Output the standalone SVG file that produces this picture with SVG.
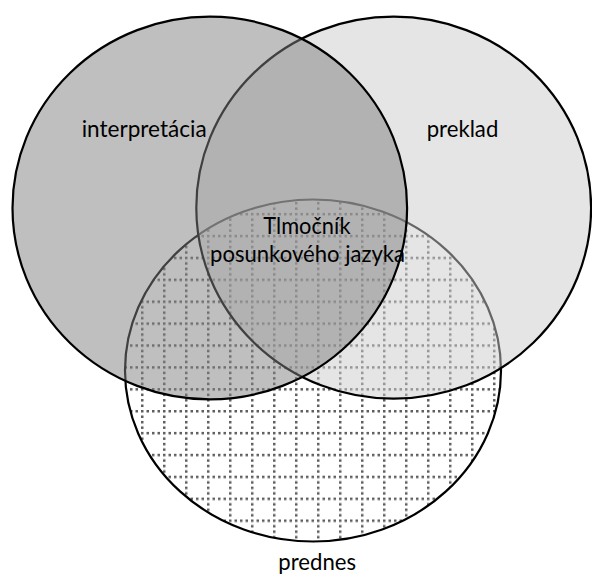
<svg xmlns="http://www.w3.org/2000/svg" width="592" height="576" viewBox="0 0 592 576">
  <style>
    .lbl { font-family: Lato, "Open Sans", "Liberation Sans", sans-serif; font-size: 22.5px; fill: #000; text-anchor: middle; }
    .ring { stroke: #000; stroke-width: 2.2; }
  </style>
  <defs>
    <pattern id="dotgrid" patternUnits="userSpaceOnUse" x="207" y="453.8" width="22" height="21.9">
      <rect width="22" height="21.9" fill="#fff"/>
      <g fill="#5e5e5e">
        <rect x="0" y="0" width="2.5" height="2.5"/>
        <rect x="5.5" y="0" width="2.5" height="2.5"/>
        <rect x="11" y="0" width="2.5" height="2.5"/>
        <rect x="16.5" y="0" width="2.5" height="2.5"/>
        <rect x="0" y="5.48" width="2.5" height="2.5"/>
        <rect x="0" y="10.95" width="2.5" height="2.5"/>
        <rect x="0" y="16.43" width="2.5" height="2.5"/>
      </g>
    </pattern>
  </defs>
  <rect width="592" height="576" fill="#fff"/>
  <g id="connectors"/>
  <g id="node-prednes">
    <ellipse class="ring" cx="313" cy="370.5" rx="188" ry="171" fill="url(#dotgrid)"/>
    <text class="lbl" x="317.2" y="570" textLength="77.7" lengthAdjust="spacingAndGlyphs">prednes</text>
  </g>
  <g id="node-preklad">
    <ellipse class="ring" cx="393.7" cy="207.7" rx="197.4" ry="191" fill="rgba(204,204,204,0.5)"/>
    <text class="lbl" x="462.5" y="137.3" textLength="71.6" lengthAdjust="spacingAndGlyphs">preklad</text>
  </g>
  <g id="node-interpretacia">
    <ellipse class="ring" cx="209.8" cy="208" rx="197.3" ry="191.3" fill="rgba(128,128,128,0.5)"/>
    <text class="lbl" x="144.2" y="137.3" textLength="125" lengthAdjust="spacingAndGlyphs">interpretácia</text>
  </g>
  <g id="node-tlmocnik">
    <text class="lbl" x="307" y="234" textLength="87.4" lengthAdjust="spacingAndGlyphs">Tlmočník</text>
    <text class="lbl" x="307.5" y="262" textLength="195" lengthAdjust="spacingAndGlyphs">posunkového jazyka</text>
  </g>
</svg>
